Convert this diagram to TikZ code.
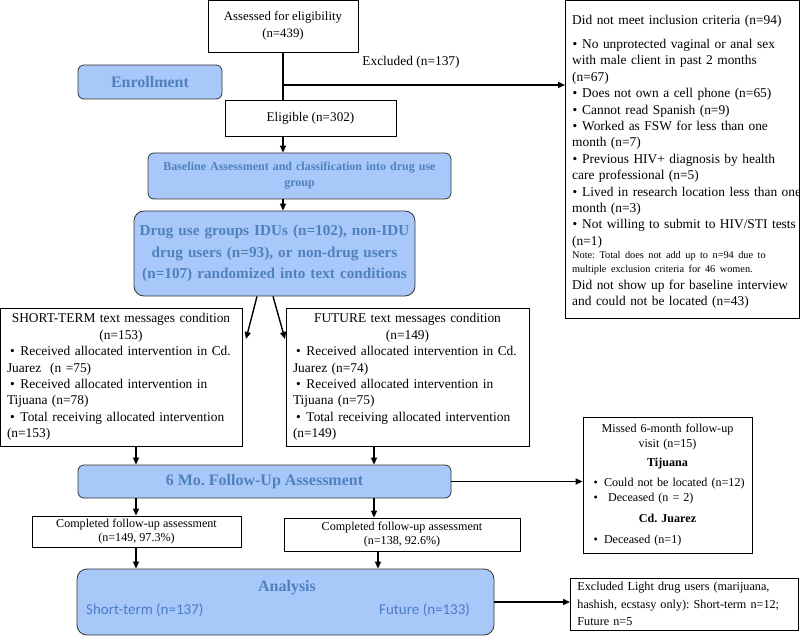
\documentclass[tikz,border=0pt]{standalone}
\usepackage{fontspec}
\setmainfont{Liberation Serif}
\newfontfamily\carl{Carlito}
\usetikzlibrary{arrows.meta,calc}
\definecolor{bfill}{HTML}{A9C8FA}
\definecolor{btext}{HTML}{4F81BD}
\definecolor{stext}{HTML}{4A7CC8}
\newlength\bpre
\newlength\bhang
\newcommand\bitem[1]{\par\noindent\hangindent=\bhang\hangafter=1\makebox[\bhang][l]{\hspace{\bpre}\textbullet}#1}
\frenchspacing
\begin{document}
\frenchspacing
\begin{tikzpicture}[x=1pt,y=-1pt,
  box/.style={draw=black, line width=0.8pt, fill=white, inner sep=0pt, align=center},
  tbox/.style={draw=black, line width=0.8pt, fill=white, inner ysep=0pt, inner xsep=7pt, align=left},
  bbox/.style={draw=black!80, line width=0.8pt, fill=bfill, rounded corners=6pt, inner sep=0pt, align=center, text=btext},
  arr/.style={line width=1.4pt, -{Triangle[length=7pt,width=6pt]}},
  ln/.style={line width=1.4pt}]
\useasboundingbox (0,0) rectangle (800,636);

% top part
\node[box, minimum width=150, minimum height=52, font=\fontsize{12.8}{17}\selectfont] (assess) at (283,26) {Assessed for eligibility\\(n=439)};
\node[font=\fontsize{13.4}{16}\selectfont, inner sep=0pt] (exl) at (411,62) {Excluded (n=137)};
\node[bbox, minimum width=144, minimum height=34, font=\fontsize{16}{19}\selectfont\bfseries] (enr) at (150,82) {Enrollment};
\node[box, minimum width=171, minimum height=36, font=\fontsize{13.2}{16}\selectfont] (elig) at (310.5,118) {Eligible (n=302)};
\node[bbox, minimum width=303, minimum height=46, text width=296, font=\fontsize{12}{16}\selectfont\bfseries] (base) at (299.5,176) {Baseline Assessment and classification into drug use\\group};
\node[bbox, rounded corners=10pt, minimum width=281, minimum height=85, text width=276, font=\fontsize{15.2}{21.5}\selectfont\bfseries] (drug) at (274.5,253.5) {Drug use groups IDUs (n=102), non-IDU\\drug users (n=93), or non-drug users\\(n=107) randomized into text conditions};

\node[draw=black, line width=0.8pt, fill=white, inner sep=0pt, anchor=north west, minimum width=234, minimum height=318] (dnm) at (565,0) {};
\node[inner sep=0pt, anchor=north west, text width=222, align=left, font=\fontsize{13.4}{16.4}\selectfont\frenchspacing\setlength\bpre{0.5pt}\setlength\bhang{10pt}] (dnmtext) at (572,15) {\mbox{Did not meet inclusion criteria (n=94)}\par\vspace{7.6pt}
\bitem{No unprotected vaginal or anal sex\\with male client in past 2 months\\(n=67)}
\bitem{Does not own a cell phone (n=65)}
\bitem{Cannot read Spanish (n=9)}
\bitem{Worked as FSW for less than one\\month (n=7)}
\bitem{Previous HIV+ diagnosis by health\\care professional (n=5)}
\bitem{\mbox{Lived in research location less than one}\\month (n=3)}
\bitem{\mbox{Not willing to submit to HIV/STI tests}\\(n=1)}
\par{\fontsize{10.3}{13.5}\selectfont\mbox{Note: Total does not add up to n=94 due to}\par\mbox{multiple exclusion criteria for 46 women.}\par}
\vspace{0.8pt}
\mbox{Did not show up for baseline interview}\par\mbox{and could not be located (n=43)}};

\coordinate (jn) at (assess.south |- 0,85);
\draw[ln] (assess.south) -- (assess.south |- elig.north);
\draw[arr] (jn) -- (jn -| dnm.west);
\draw[arr] (elig.south -| assess.south) -- (base.north -| assess.south);
\draw[arr] (base.south -| assess.south) -- (drug.north -| assess.south);

% conditions
\node[tbox, minimum width=242, minimum height=138, text width=228, font=\fontsize{13.4}{16.4}\selectfont\frenchspacing\setlength\bpre{3pt}\setlength\bhang{13.5pt}] (st) at (121,377) {{\centering SHORT-TERM text messages condition\\(n=153)\par}
\bitem{Received allocated intervention in Cd.\\Juarez\ \ (n =75)}
\bitem{Received allocated intervention in\\Tijuana (n=78)}
\bitem{Total receiving allocated intervention\\(n=153)}};
\node[tbox, minimum width=243, minimum height=138, text width=229, font=\fontsize{13.4}{16.4}\selectfont\frenchspacing\setlength\bpre{3pt}\setlength\bhang{13.5pt}] (fut) at (407.5,377) {{\centering FUTURE text messages condition\\(n=149)\par}
\bitem{Received allocated intervention in Cd.\\Juarez (n=74)}
\bitem{Received allocated intervention in\\Tijuana (n=75)}
\bitem{Total receiving allocated intervention\\(n=149)}};

\coordinate (da) at (246,339);
\coordinate (db) at (285,339);
\draw[arr] ($(drug.south)+(-17.5,0)$) -- (da);
\draw[arr] ($(drug.south)+(-1.5,0)$) -- (db);

% follow-up
\node[bbox, minimum width=373, minimum height=33, font=\fontsize{16}{19}\selectfont\bfseries] (mo) at (264.5,481.5) {6 Mo. Follow-Up Assessment};
\coordinate (c1) at (136,0);
\coordinate (c2) at (374,0);
\coordinate (c3) at (378,0);
\draw[arr] (st.south -| c1) -- (mo.north -| c1);
\draw[arr] (fut.south -| c2) -- (mo.north -| c2);

\node[tbox, minimum width=169, minimum height=136, text width=155, font=\fontsize{12.1}{15}\selectfont\frenchspacing\setlength\bpre{3.7pt}\setlength\bhang{14pt}] (mis) at (667.5,485) {{\centering Missed 6-month follow-up\\visit (n=15)\par}
\vspace{4pt}
{\centering\bfseries Tijuana\par}
\vspace{5.5pt}
\bitem{Could not be located (n=12)}
\bitem{\ Deceased (n = 2)}\par
\vspace{5.5pt}
{\centering\bfseries Cd.\ Juarez\par}
\vspace{6.5pt}
\bitem{Deceased (n=1)}};
\draw[arr] (mo.east) -- (mo.east -| mis.west);

\node[box, minimum width=209, minimum height=31, font=\fontsize{12.1}{14.5}\selectfont] (cp1) at (136.5,531.5) {Completed follow-up assessment\\(n=149, 97.3\%)};
\node[box, minimum width=236, minimum height=33, font=\fontsize{12.1}{14.5}\selectfont] (cp2) at (402,534.5) {Completed follow-up assessment\\(n=138, 92.6\%)};
\draw[arr] (mo.south -| c1) -- (cp1.north -| c1);
\draw[arr] (mo.south -| c2) -- (cp2.north -| c2);

% analysis
\node[bbox, minimum width=417, minimum height=66, rounded corners=10pt] (an) at (285.5,602) {};
\node[text=btext, font=\fontsize{16}{19}\selectfont\bfseries, inner sep=0pt] (antitle) at (287,588) {Analysis};
\node[text=stext, font=\carl\fontsize{15}{18}\selectfont, inner sep=0pt, anchor=west] (ans) at (86,610) {Short-term (n=137)};
\node[text=stext, font=\carl\fontsize{15}{18}\selectfont, inner sep=0pt, anchor=west] (anf) at (379,610) {Future (n=133)};
\draw[arr] (cp1.south -| c1) -- (an.north -| c1);
\draw[arr] (cp2.south -| c3) -- (an.north -| c3);

\node[tbox, anchor=west, minimum height=52, text width=214, inner xsep=7pt, font=\fontsize{12.2}{17.5}\selectfont\frenchspacing] (exlt) at (570,604) {\mbox{Excluded Light drug users (marijuana,}\par\mbox{hashish, ecstasy only): Short-term n=12;}\par\mbox{Future n=5}};
\draw[arr] (an.east) -- (an.east -| exlt.west);
\end{tikzpicture}
\end{document}
